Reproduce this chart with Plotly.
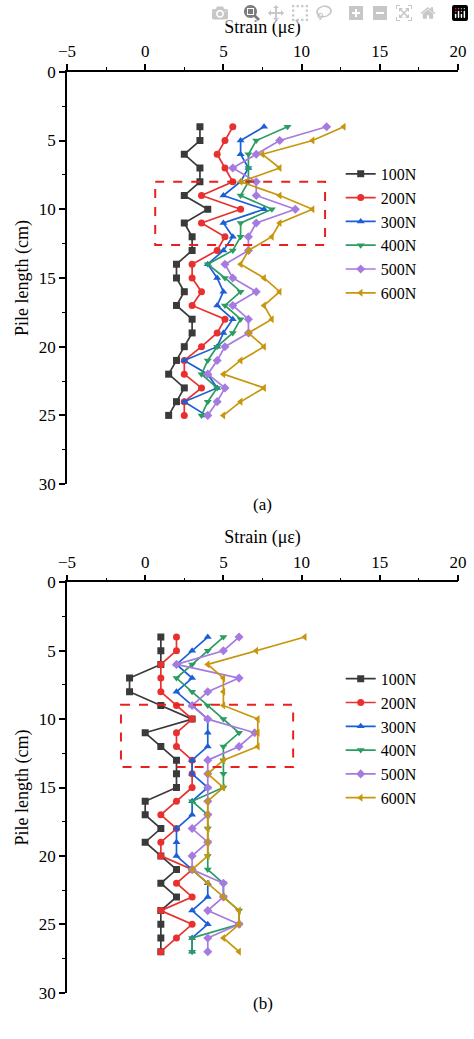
import plotly.graph_objects as go

loads = ["100N", "200N", "300N", "400N", "500N", "600N"]
colors = ["#3a3a3a", "#e8312f", "#1b5fd6", "#2a9d60", "#a67be0", "#c8960c"]
symbols = ["square", "circle", "triangle-up", "triangle-down", "diamond", "triangle-left"]

depth_a = list(range(4, 26))
strain_a = [
    [3.5,3.5,2.5,3.5,3.5,2.5,4,2.5,3,3,2,2,2.5,2,3,3,2.5,2,1.5,2.5,2,1.5],
    [5.6,5.1,4.6,5.1,5.6,3.6,6.1,3.6,5.1,4.6,3,3,3.6,3,5.1,4.6,3.6,2.5,2.5,3.6,2.5,2.5],
    [7.6,6.1,6.1,6.6,6.1,5,7.6,5,5.6,5,4,4.6,5,4.6,5.6,5,4.6,2.5,4,4.6,2.5,3.9],
    [9.1,7.1,6.6,6.6,6.6,6.1,8.1,6.1,6.1,5.6,4,5.1,6.1,5.1,6.1,5.6,4.6,4,3.6,4.6,4,3.6],
    [11.6,8.6,7.1,5.6,7.1,7.1,9.6,7.1,6.6,6.6,5.1,5.6,7.1,5.6,6.6,6.6,5.1,4.6,4,5.1,4.6,4],
    [12.7,10.7,7.5,8.6,6.1,8.6,10.7,8.6,8.1,6.6,6.1,7.6,8.6,7.6,8.1,6.6,7.6,6.1,5,7.6,6.1,5],
]
depth_b = list(range(4, 28))
strain_b = [
    [1,1,1,-1,-1,1,3,0,1,2,2,2,0,0,1,0,1,2,1,2,1,1,1,1],
    [2,2,1,1,1,2,3,2,2,3,3,3,2,1,2,1,1,3,2,3,1,3,2,1],
    [4,3,2,3,2,3,4,4,4,3,3,4,3,3,2,2,2,3,4,4,3,4,3,3],
    [5,4,3,2,3,4,5,6,5,5,5,5,3,4,4,4,4,4,5,5,6,6,3,3],
    [6,5,2,6,4,3,4,7,6,4,4,4,4,4,3,4,3,3,5,5,4,6,4,4],
    [10.2,7.1,4,5,5,5,7.2,7.2,7.2,5,4,5,4,4,4,4,4,3,4,5,6,6,5,6],
]
box_a = (0.64, 11.5, 8.0, 12.6)
box_b = (-1.55, 9.46, 8.95, 13.5)

FONT = "Liberation Serif"
fig = go.Figure()
for i in range(6):
    for (d, s, xa, ya, lg) in [(depth_a, strain_a, "x", "y", "legend"),
                               (depth_b, strain_b, "x2", "y2", "legend2")]:
        fig.add_trace(go.Scatter(
            x=s[i], y=d, xaxis=xa, yaxis=ya, mode="lines+markers", name=loads[i],
            line=dict(color=colors[i], width=1.7),
            marker=dict(symbol=symbols[i], size=7, color=colors[i]),
            legend=lg))

for (b, xr, yr) in [(box_a, "x", "y"), (box_b, "x2", "y2")]:
    fig.add_shape(type="rect", xref=xr, yref=yr, x0=b[0], x1=b[1], y0=b[2], y1=b[3],
                  line=dict(color="#e8201f", width=2, dash="dash"))

minor = dict(ticks="outside", ticklen=3, tickwidth=1.2, tickcolor="black", dtick=2.5)
axis_common = dict(showgrid=False, zeroline=False, showline=True, linecolor="black", linewidth=1.5,
                   ticks="outside", ticklen=6, tickwidth=1.5, tickcolor="black", minor=minor,
                   tickfont=dict(family=FONT, size=17, color="black"))
xcommon = dict(axis_common, range=[-5, 20], dtick=5, side="top",
               title=dict(text="Strain (με)", font=dict(family=FONT, size=18, color="black"), standoff=4))
ycommon = dict(axis_common, range=[30, 0], dtick=5,
               title=dict(text="Pile length (cm)", font=dict(family=FONT, size=18, color="black"), standoff=6))

fig.update_layout(
    width=474, height=1039, margin=dict(l=67, r=16, t=0, b=0),
    plot_bgcolor="white", paper_bgcolor="white",
    xaxis=dict(xcommon, domain=[0, 1], anchor="y"),
    yaxis=dict(ycommon, domain=[0.5342, 0.9384], anchor="x"),
    xaxis2=dict(xcommon, domain=[0, 1], anchor="y2"),
    yaxis2=dict(ycommon, domain=[0.0356, 0.4379], anchor="x2"),
    legend=dict(x=0.7, y=0.855, xanchor="left", yanchor="top", bgcolor="rgba(0,0,0,0)",
                font=dict(family=FONT, size=16, color="black"), tracegroupgap=0, itemwidth=30),
    legend2=dict(x=0.7, y=0.36, xanchor="left", yanchor="top", bgcolor="rgba(0,0,0,0)",
                 font=dict(family=FONT, size=16, color="black"), tracegroupgap=0, itemwidth=30),
    annotations=[
        dict(text="(a)", x=0.5, y=1 - 505/1039, xref="paper", yref="paper", showarrow=False,
             font=dict(family=FONT, size=17, color="black")),
        dict(text="(b)", x=0.5, y=1 - 1025/1039, xref="paper", yref="paper", showarrow=False,
             font=dict(family=FONT, size=17, color="black")),
    ],
)
fig.write_html("out.html", post_script="document.body.style.margin='0';document.body.style.overflow='hidden';")
